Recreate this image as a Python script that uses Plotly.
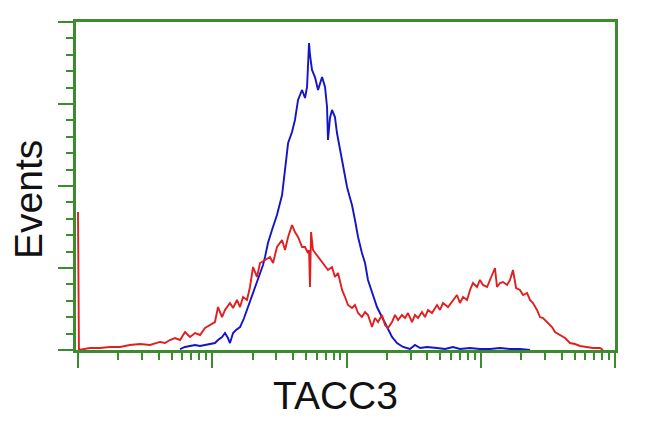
import numpy as np
import plotly.graph_objects as go

# log10 fluorescence intensity (decades) and event counts
blue_log = [0.760, 0.797, 0.834, 0.872, 0.909, 0.946, 0.983, 1.020, 1.043, 1.073, 1.095, 1.117, 1.132,
            1.155, 1.177, 1.207, 1.237, 1.259, 1.281, 1.304, 1.326, 1.356, 1.378, 1.393, 1.415, 1.445,
            1.482, 1.520, 1.542, 1.565, 1.594, 1.616, 1.639, 1.669, 1.691, 1.706, 1.721, 1.728, 1.743,
            1.765, 1.788, 1.803, 1.818, 1.840, 1.855, 1.862, 1.877, 1.892, 1.914, 1.929, 1.952, 1.974,
            2.004, 2.026, 2.041, 2.063, 2.086, 2.115, 2.138, 2.160, 2.190, 2.227, 2.264, 2.302, 2.339,
            2.376, 2.421, 2.473, 2.510, 2.548, 2.600, 2.674, 2.734, 2.793, 2.845, 2.920, 2.994, 3.069,
            3.143, 3.218, 3.292, 3.367]
blue_counts = [1.2, 3.7, 4.9, 6.1, 4.9, 6.1, 7.3, 8.5, 12.2, 15.9, 20.7, 14.6, 8.5,
               20.7, 24.4, 28.0, 39.0, 48.8, 58.5, 69.5, 79.3, 93.9, 103.7, 113.4, 130.5, 146.3,
               164.6, 189.0, 223.2, 252.4, 265.9, 280.5, 304.9, 317.1, 307.3, 320.7, 374.4, 359.8, 341.5,
               332.9, 317.1, 326.8, 332.9, 320.7, 296.3, 256.1, 282.9, 292.7, 284.1, 264.6, 243.9, 223.2,
               198.8, 185.4, 176.8, 158.5, 137.8, 118.3, 106.1, 85.4, 69.5, 52.4, 40.2, 28.0, 15.9,
               8.5, 3.7, 1.2, 6.1, 2.4, 3.7, 2.4, 1.2, 3.7, 1.2, 2.4, 1.2, 1.2,
               2.4, 1.2, 1.2, 0.0]

red_log = [0.000, 0.007, 0.089, 0.164, 0.238, 0.313, 0.387, 0.462, 0.536, 0.611, 0.648,
           0.685, 0.723, 0.760, 0.797, 0.834, 0.872, 0.909, 0.946, 0.983, 1.020, 1.043, 1.073,
           1.095, 1.132, 1.155, 1.184, 1.207, 1.229, 1.259, 1.281, 1.304, 1.333, 1.356, 1.393,
           1.430, 1.453, 1.482, 1.520, 1.542, 1.565, 1.594, 1.616, 1.639, 1.669, 1.691, 1.713,
           1.721, 1.728, 1.736, 1.750, 1.788, 1.825, 1.862, 1.892, 1.914, 1.937, 1.967, 1.989,
           2.011, 2.041, 2.063, 2.086, 2.115, 2.138, 2.160, 2.190, 2.212, 2.235, 2.264, 2.287,
           2.309, 2.339, 2.361, 2.384, 2.413, 2.436, 2.458, 2.488, 2.510, 2.533, 2.562, 2.585,
           2.607, 2.637, 2.674, 2.696, 2.719, 2.756, 2.793, 2.823, 2.845, 2.868, 2.898, 2.920,
           2.942, 2.972, 2.994, 3.017, 3.047, 3.069, 3.106, 3.121, 3.143, 3.166, 3.196, 3.218,
           3.240, 3.263, 3.292, 3.315, 3.345, 3.367, 3.389, 3.419, 3.441, 3.464, 3.494, 3.531,
           3.553, 3.590, 3.628, 3.665, 3.702, 3.739, 3.792, 3.837, 3.888, 3.911]
red_counts = [168.3, 0.0, 2.4, 2.4, 3.7, 3.7, 6.1, 7.3, 6.1, 9.8, 8.5,
              12.2, 14.6, 12.2, 22.0, 15.9, 20.7, 18.3, 26.8, 30.5, 34.1, 52.4, 40.2,
              48.8, 57.3, 51.2, 61.0, 52.4, 64.6, 61.0, 76.8, 101.2, 89.0, 106.1, 109.8,
              113.4, 106.1, 125.6, 134.1, 122.0, 137.8, 152.4, 143.9, 137.8, 125.6, 125.6, 118.3,
              122.0, 76.8, 143.9, 122.0, 113.4, 106.1, 97.6, 101.2, 89.0, 93.9, 73.2, 64.6,
              54.9, 51.2, 54.9, 45.1, 40.2, 46.3, 42.7, 28.0, 39.0, 34.1, 42.7, 30.5,
              26.8, 34.1, 42.7, 36.6, 42.7, 39.0, 45.1, 34.1, 42.7, 39.0, 46.3, 40.2,
              48.8, 45.1, 54.9, 48.8, 57.3, 52.4, 61.0, 67.1, 57.3, 64.6, 61.0, 73.2,
              81.7, 76.8, 85.4, 79.3, 76.8, 85.4, 100.0, 76.8, 81.7, 82.9, 79.3, 85.4,
              97.6, 75.6, 73.2, 67.1, 69.5, 61.0, 57.3, 48.8, 40.2, 39.0, 34.1, 28.0,
              22.0, 18.3, 14.6, 8.5, 7.3, 4.9, 3.7, 2.4, 2.4, 0.0]

x_major = [1, 10, 100, 1000, 10000]
x_minor = [m * 10 ** k for k in range(4) for m in range(2, 10)]

GREEN = "#3a8c2c"

# the page adds an 8 px body margin, so the figure is sized to fit the window
L, T, PW, PH = 68, 14, 539, 328

fig = go.Figure()
fig.add_trace(go.Scatter(x=np.power(10.0, blue_log), y=blue_counts, mode="lines",
                         line=dict(color="#1414c8", width=1.9), hoverinfo="skip"))
fig.add_trace(go.Scatter(x=np.power(10.0, red_log), y=red_counts, mode="lines",
                         line=dict(color="#e02020", width=1.9), hoverinfo="skip"))

fig.update_layout(
    width=642, height=424,
    margin=dict(l=L, r=642 - L - PW, t=T, b=424 - T - PH),
    paper_bgcolor="white", plot_bgcolor="white",
    showlegend=False,
    font=dict(family="Liberation Sans, Arial, sans-serif", color="#111111"),
    xaxis=dict(type="log", range=[-0.015, 4.0], showgrid=False, zeroline=False,
               showline=True, linecolor=GREEN, linewidth=2.5, mirror=True,
               tickmode="array", tickvals=x_major, ticks="outside", ticklen=15,
               tickwidth=2, tickcolor=GREEN, showticklabels=False,
               minor=dict(tickmode="array", tickvals=x_minor, ticks="outside", ticklen=7,
                          tickwidth=2, tickcolor=GREEN)),
    yaxis=dict(range=[0, 400], showgrid=False, zeroline=False,
               showline=True, linecolor=GREEN, linewidth=2.5, mirror=True,
               tickmode="linear", tick0=0, dtick=100, ticks="outside", ticklen=15,
               tickwidth=2, tickcolor=GREEN, showticklabels=False,
               minor=dict(tick0=0, dtick=20, ticks="outside", ticklen=7,
                          tickwidth=2, tickcolor=GREEN)),
    annotations=[
        dict(text="Events", xref="paper", yref="paper", x=(20 - L) / PW, y=(T + PH - 192) / PH,
             xanchor="center", yanchor="middle", textangle=-90, showarrow=False,
             font=dict(size=39, color="#111111")),
        dict(text="TACC3", xref="paper", yref="paper", x=(327 - L) / PW, y=-(388 - T - PH) / PH,
             xanchor="center", yanchor="middle", showarrow=False,
             font=dict(size=39, color="#111111")),
    ],
)

fig.write_html("out.html")
